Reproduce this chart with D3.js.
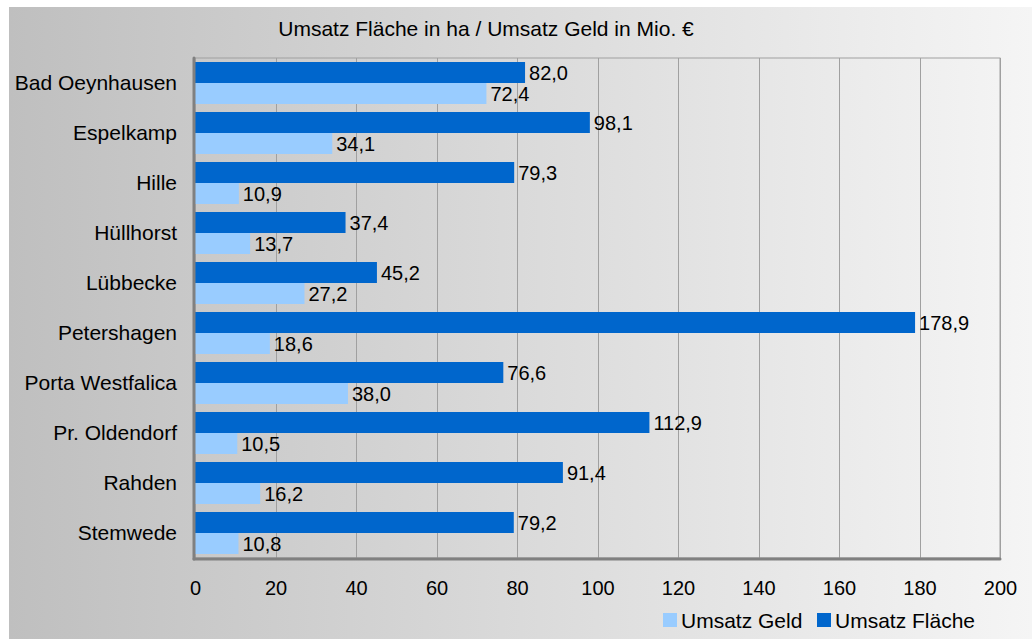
<!DOCTYPE html>
<html><head><meta charset="utf-8">
<script src="https://cdn.jsdelivr.net/npm/d3@7"></script>
<style>body{margin:0;background:#fff}svg{display:block}text{font-family:Arial,"Liberation Sans",sans-serif;fill:#000}</style>
</head><body>
<script>
const categories = ["Bad Oeynhausen","Espelkamp","Hille","Hüllhorst","Lübbecke","Petershagen","Porta Westfalica","Pr. Oldendorf","Rahden","Stemwede"];
const flaeche = [82.0,98.1,79.3,37.4,45.2,178.9,76.6,112.9,91.4,79.2];
const geld = [72.4,34.1,10.9,13.7,27.2,18.6,38.0,10.5,16.2,10.8];
const xTicks = [0,20,40,60,80,100,120,140,160,180,200];
const seriesNames = ["Umsatz Fläche","Umsatz Geld"];
const colors = {"Umsatz Fläche":"#0066CC","Umsatz Geld":"#99CCFF"};
const title = "Umsatz Fläche in ha / Umsatz Geld in Mio. €";

const W=1032,H=639;
const svg=d3.select("body").append("svg").attr("width",W).attr("height",H);
const defs=svg.append("defs");
const g1=defs.append("linearGradient").attr("id","bgG").attr("x1","0").attr("x2","1").attr("y1","0").attr("y2","0");
g1.append("stop").attr("offset","0").attr("stop-color","#bfbfbf");
g1.append("stop").attr("offset","1").attr("stop-color","#f5f5f5");
const g2=defs.append("linearGradient").attr("id","plG").attr("x1","0").attr("x2","1").attr("y1","0").attr("y2","0");
g2.append("stop").attr("offset","0").attr("stop-color","#c9c9c9");
g2.append("stop").attr("offset","1").attr("stop-color","#f3f3f3");

svg.append("rect").attr("x",9).attr("y",7).attr("width",W-9).attr("height",H-7).attr("fill","url(#bgG)");

const L=195,R=1000,T=58,B=558;
const x=d3.scaleLinear().domain([0,200]).range([L,R]);
const y=d3.scaleBand().domain(categories).range([T,B]).paddingInner(0.16).paddingOuter(0.08);
const sub=d3.scaleBand().domain(seriesNames).range([0,y.bandwidth()]);

svg.append("rect").attr("x",L).attr("y",T).attr("width",R-L).attr("height",B-T).attr("fill","url(#plG)").attr("stroke","#a0a0a0").attr("stroke-width",1);

// gridlines
svg.append("g").selectAll("line").data(xTicks.slice(1)).join("line")
  .attr("x1",d=>Math.round(x(d))+0.5).attr("x2",d=>Math.round(x(d))+0.5)
  .attr("y1",T).attr("y2",B).attr("stroke","#a0a0a0").attr("stroke-width",1);

svg.append("text").attr("x",486).attr("y",28).attr("dy","0.36em").attr("text-anchor","middle").attr("font-size","21px").text(title);

const series=[{name:"Umsatz Fläche",vals:flaeche},{name:"Umsatz Geld",vals:geld}];
const fmt=v=>v.toFixed(1).replace(".",",");
series.forEach(s=>{
  const gg=svg.append("g");
  gg.selectAll("rect").data(categories).join("rect")
    .attr("x",x(0)).attr("y",(c)=>y(c)+sub(s.name))
    .attr("width",(c,i)=>x(s.vals[i])-x(0)).attr("height",sub.bandwidth())
    .attr("fill",colors[s.name]);
  gg.selectAll("text").data(categories).join("text")
    .attr("x",(c,i)=>x(s.vals[i])+4).attr("y",c=>y(c)+sub(s.name)+sub.bandwidth()/2)
    .attr("dy","0.36em").attr("font-size","20px").text((c,i)=>fmt(s.vals[i]));
});

// axes lines
svg.append("line").attr("x1",L-1).attr("x2",L-1).attr("y1",T).attr("y2",B+1).attr("stroke","#808080").attr("stroke-width",3).attr("stroke-linecap","round");
svg.append("line").attr("x1",L-1).attr("x2",R).attr("y1",B+1).attr("y2",B+1).attr("stroke","#808080").attr("stroke-width",3).attr("stroke-linecap","round");

// y labels
const ya=svg.append("g").attr("transform",`translate(${L-18},0)`).call(d3.axisLeft(y).tickSize(0).tickPadding(0));
ya.select(".domain").remove();
ya.selectAll("text").attr("font-size","21px").attr("font-family","Arial,'Liberation Sans',sans-serif").attr("fill","#000");

// x labels
const xa=svg.append("g").attr("transform",`translate(0,${B})`).call(d3.axisBottom(x).tickValues(xTicks).tickSize(0).tickPadding(23));
xa.select(".domain").remove();
xa.selectAll("text").attr("font-size","20px").attr("font-family","Arial,'Liberation Sans',sans-serif").attr("fill","#000");

// legend
const leg=[{name:"Umsatz Geld",x:663},{name:"Umsatz Fläche",x:817}];
leg.forEach(l=>{
  svg.append("rect").attr("x",l.x).attr("y",613).attr("width",14).attr("height",14).attr("fill",colors[l.name]);
  svg.append("text").attr("x",l.x+18).attr("y",620).attr("dy","0.36em").attr("font-size","21px").text(l.name);
});
</script>
</body></html>
